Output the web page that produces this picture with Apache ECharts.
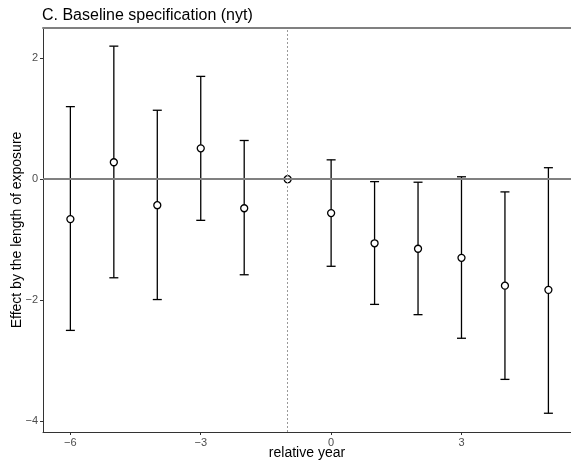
<!DOCTYPE html>
<html>
<head>
<meta charset="utf-8">
<script src="https://cdn.jsdelivr.net/npm/echarts@6/dist/echarts.min.js"></script>
<style>
  html, body { margin: 0; padding: 0; background: #fff; }
  #chart { width: 571px; height: 461px; }
</style>
</head>
<body>
<div id="chart"></div>
<script>
// relative year and estimates with confidence bounds
var years = [-6, -5, -4, -3, -2, -1, 0, 1, 2, 3, 4, 5];
var estimates = [-0.66, 0.28, -0.43, 0.51, -0.48, 0, -0.56, -1.06, -1.15, -1.30, -1.76, -1.83];
var upper = [1.20, 2.20, 1.14, 1.70, 0.64, 0, 0.32, -0.04, -0.05, 0.04, -0.21, 0.19];
var lower = [-2.50, -1.63, -1.99, -0.68, -1.58, 0, -1.44, -2.07, -2.24, -2.63, -3.31, -3.87];
var xTicks = [-6, -3, 0, 3];
var yTicks = [-4, -2, 0, 2];

var chart = echarts.init(document.getElementById('chart'));

var barData = [];
var pointData = [];
for (var i = 0; i < years.length; i++) {
    if (years[i] !== -1) barData.push([years[i], lower[i], upper[i]]);
    pointData.push([years[i], estimates[i]]);
}

var font = 'Liberation Sans, Arial, sans-serif';
var tickLabel = { color: '#4d4d4d', fontSize: 11, fontFamily: font };
var minusFmt = function (v) { return v < 0 ? '\u2212' + (-v) : String(v); };

var option = {
    animation: false,
    title: {
        text: 'C. Baseline specification (nyt)',
        left: 37, top: 3,
        textStyle: { fontSize: 16, fontWeight: 'normal', color: '#000', fontFamily: font }
    },
    grid: { left: 43, right: 0, top: 28, bottom: 29, outerBoundsMode: 'none', containLabel: false },
    xAxis: [{
        type: 'value', min: -6.63, max: 5.52,
        name: 'relative year', nameLocation: 'middle', nameGap: 14, nameMoveOverlap: false,
        nameTextStyle: { fontSize: 14, color: '#000', fontFamily: font },
        axisLine: { show: true, onZero: false, lineStyle: { color: '#333', width: 1 } },
        axisTick: { show: true, length: 3, lineStyle: { color: '#333' }, customValues: xTicks },
        axisLabel: Object.assign({ margin: 5, customValues: xTicks, formatter: minusFmt }, tickLabel),
        splitLine: { show: false }
    }, {
        type: 'value', position: 'top', min: -6.63, max: 5.52,
        axisLine: { show: true, onZero: false, lineStyle: { color: '#808080', width: 2 } },
        axisTick: { show: false }, axisLabel: { show: false }, splitLine: { show: false }
    }],
    yAxis: {
        type: 'value', min: -4.18, max: 2.5,
        name: 'Effect by the length of exposure', nameLocation: 'middle', nameGap: 19, nameMoveOverlap: false,
        nameTextStyle: { fontSize: 14, color: '#000', fontFamily: font },
        axisLine: { show: true, onZero: false, lineStyle: { color: '#333', width: 1 } },
        axisTick: { show: true, length: 3, lineStyle: { color: '#333' }, customValues: yTicks },
        axisLabel: Object.assign({ margin: 5, customValues: yTicks, formatter: minusFmt }, tickLabel),
        splitLine: { show: false }
    },
    series: [{
        type: 'line', data: [], xAxisIndex: 0,
        markLine: {
            silent: true, symbol: 'none', label: { show: false },
            data: [
                { yAxis: 0, lineStyle: { color: '#808080', width: 2, type: 'solid' } },
                { xAxis: -1, lineStyle: { color: '#999', width: 1, type: [2, 2] } }
            ]
        }
    }, {
        type: 'custom', xAxisIndex: 0,
        data: barData,
        renderItem: function (params, api) {
            var x = api.value(0);
            var lo = api.coord([x, api.value(1)]);
            var hi = api.coord([x, api.value(2)]);
            var cap = 4.5;
            var style = { stroke: '#000', lineWidth: 1.3 };
            return {
                type: 'group',
                children: [
                    { type: 'line', shape: { x1: lo[0], y1: lo[1], x2: hi[0], y2: hi[1] }, style: style },
                    { type: 'line', shape: { x1: lo[0] - cap, y1: lo[1], x2: lo[0] + cap, y2: lo[1] }, style: style },
                    { type: 'line', shape: { x1: hi[0] - cap, y1: hi[1], x2: hi[0] + cap, y2: hi[1] }, style: style }
                ]
            };
        },
        z: 3
    }, {
        type: 'scatter', xAxisIndex: 0,
        data: pointData,
        symbol: 'circle', symbolSize: 7,
        itemStyle: { color: '#fff', borderColor: '#000', borderWidth: 1.3, opacity: 1 },
        z: 4
    }]
};
chart.setOption(option);
</script>
</body>
</html>
